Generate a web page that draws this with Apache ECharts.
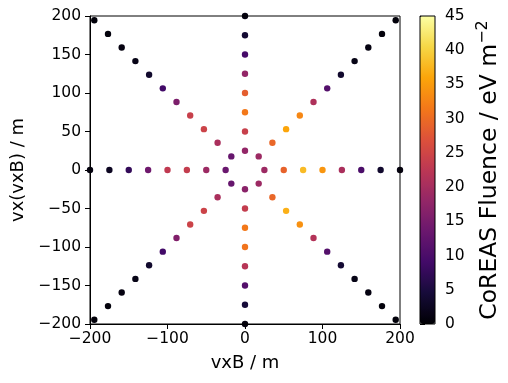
<!DOCTYPE html>
<html>
<head>
<meta charset="utf-8">
<script src="https://cdn.jsdelivr.net/npm/echarts@6/dist/echarts.min.js"></script>
<style>html,body{margin:0;padding:0;background:#fff}#c{width:508px;height:383px}</style>
</head>
<body>
<div id="c"></div>
<script>
// Station radii (m) along each arm of the star pattern
const axisRadii = [25, 50, 75, 100, 125, 150, 175, 200];
const diagRadii = [25, 50, 75, 100, 125, 150, 175, 200, 225, 250, 275];

// Fluence (eV m^-2) per arm, ordered by radius
const fluenceE  = [19, 29, 38, 34.5, 20.5, 10, 3.5, 1];
const fluenceN  = [18, 24, 31.5, 28.5, 18, 9.5, 4, 1];
const fluenceW  = [13.5, 19, 23.5, 23, 14, 7.5, 2.5, 1];
const fluenceS  = [17, 23.5, 31.5, 31, 22, 11, 4.5, 1];
const fluenceNE = [19, 29.5, 36, 33, 21, 11, 3.5, 1.5, 1, 0.7, 0.5];
const fluenceSE = [19, 29.5, 37, 34, 21.5, 11, 4, 1.5, 1, 0.7, 0.5];
const fluenceNW = [13, 20.5, 24.5, 24, 15.5, 9, 3.5, 1.5, 1, 0.7, 0.5];
const fluenceSW = [13, 20.5, 24.5, 24.5, 16, 9, 3.5, 1.5, 1, 0.7, 0.5];

const xTicks = [-200, -100, 0, 100, 200];
const yTicks = [-200, -150, -100, -50, 0, 50, 100, 150, 200];
const cbTicks = [0, 5, 10, 15, 20, 25, 30, 35, 40, 45];

const inferno = ['#000004','#160b39','#420a68','#6a176e','#932667','#bc3754','#dd513a','#f37819','#fca50a','#f6d746','#fcffa4'];

const arms = [
  {dir: [1, 0], radii: axisRadii, vals: fluenceE},
  {dir: [0, 1], radii: axisRadii, vals: fluenceN},
  {dir: [-1, 0], radii: axisRadii, vals: fluenceW},
  {dir: [0, -1], radii: axisRadii, vals: fluenceS},
  {dir: [1, 1], radii: diagRadii, vals: fluenceNE},
  {dir: [1, -1], radii: diagRadii, vals: fluenceSE},
  {dir: [-1, 1], radii: diagRadii, vals: fluenceNW},
  {dir: [-1, -1], radii: diagRadii, vals: fluenceSW}
];
const points = [];
arms.forEach(a => {
  const n = Math.hypot(a.dir[0], a.dir[1]);
  a.radii.forEach((r, i) => {
    points.push([r * a.dir[0] / n, r * a.dir[1] / n, a.vals[i]]);
  });
});

const FONT = 'DejaVu Sans';
const minus = v => String(v).replace('-', '\u2212');
const tickStyle = {color: '#000', fontFamily: FONT, fontSize: 15.5};

const chart = echarts.init(document.getElementById('c'), null, {renderer: 'canvas'});
chart.setOption({
  animation: false,
  backgroundColor: '#fff',
  grid: [
    {left: 90, top: 16, width: 310, height: 308, show: true, borderColor: '#000', borderWidth: 1, z: 5, backgroundColor: 'transparent'},
    {left: 420, top: 16, width: 15, height: 308, show: true, borderColor: '#000', borderWidth: 1, z: 10, backgroundColor: 'transparent'}
  ],
  xAxis: [
    {gridIndex: 0, type: 'value', min: xTicks[0], max: xTicks[xTicks.length - 1], interval: 100,
     splitLine: {show: false},
     axisLine: {onZero: false, lineStyle: {color: '#000', width: 1}},
     axisTick: {inside: false, length: 5, lineStyle: {color: '#000', width: 1}},
     axisLabel: Object.assign({margin: 7, formatter: minus}, tickStyle),
     name: 'vxB / m', nameLocation: 'middle', nameGap: 30,
     nameTextStyle: {color: '#000', fontFamily: FONT, fontSize: 18}},
    {gridIndex: 1, type: 'value', show: false, min: 0, max: 1}
  ],
  yAxis: [
    {gridIndex: 0, type: 'value', min: yTicks[0], max: yTicks[yTicks.length - 1], interval: 50,
     splitLine: {show: false},
     axisLine: {onZero: false, lineStyle: {color: '#000', width: 1}},
     axisTick: {inside: false, length: 5, lineStyle: {color: '#000', width: 1}},
     axisLabel: Object.assign({margin: 9, formatter: minus}, tickStyle),
     name: 'vx(vxB) / m', nameLocation: 'middle', nameGap: 62, nameRotate: 90,
     nameTextStyle: {color: '#000', fontFamily: FONT, fontSize: 18}},
    {gridIndex: 1, type: 'value', position: 'right', min: cbTicks[0], max: cbTicks[cbTicks.length - 1], interval: 5,
     splitLine: {show: false},
     axisLine: {show: false},
     axisTick: {inside: false, length: 5, lineStyle: {color: '#000', width: 1}},
     axisLabel: Object.assign({margin: 10}, tickStyle),
     name: '{a|CoREAS Fluence / eV m}{s|\u22122}', nameLocation: 'middle', nameGap: 40, nameRotate: 90,
     nameTextStyle: {color: '#000', fontFamily: FONT, fontSize: 23,
       rich: {
         a: {color: '#000', fontFamily: FONT, fontSize: 23.5, lineHeight: 30},
         s: {color: '#000', fontFamily: FONT, fontSize: 16, lineHeight: 16, verticalAlign: 'top'}
       }}}
  ],
  visualMap: {
    type: 'continuous', min: 0, max: 45, dimension: 2, seriesIndex: 0,
    inRange: {color: inferno, opacity: 1},
    calculable: false, showLabel: false, text: null,
    left: 420, top: 16, itemWidth: 15, itemHeight: 308, padding: 0, z: 4
  },
  series: [{
    type: 'scatter', xAxisIndex: 0, yAxisIndex: 0,
    symbol: 'circle', symbolSize: 6.4, clip: true,
    itemStyle: {opacity: 1},
    data: points, z: 2
  }]
});
</script>
</body>
</html>
